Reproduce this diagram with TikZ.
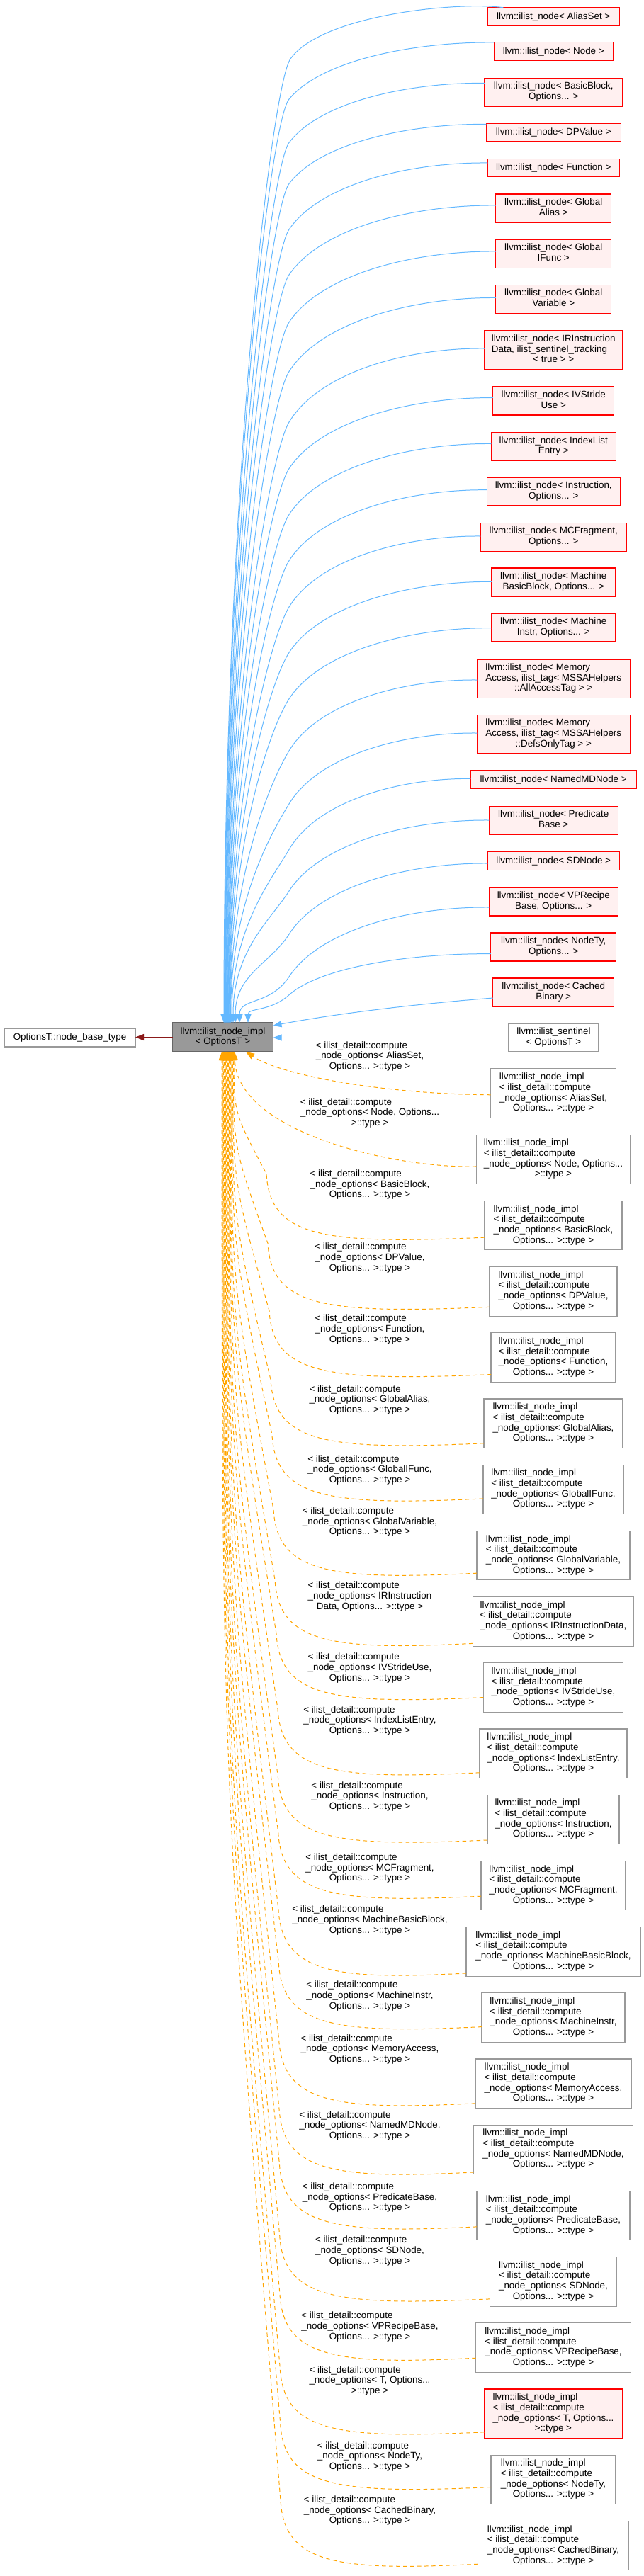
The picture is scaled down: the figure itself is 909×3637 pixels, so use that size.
\documentclass[tikz,border=0pt]{standalone}
\usepackage{fontspec}
\setmainfont{Liberation Sans}
\usetikzlibrary{arrows.meta}
\definecolor{rfill}{RGB}{255,240,240}
\definecolor{bedgec}{RGB}{99,184,255}
\definecolor{oedgec}{RGB}{255,165,0}
\definecolor{g60}{RGB}{153,153,153}
\definecolor{g40}{RGB}{102,102,102}
\definecolor{dred}{RGB}{139,26,26}
\newcommand{\lc}[1]{\multicolumn{1}{@{}c@{}}{#1}}
\newcommand{\tx}[1]{\begin{tabular}{@{}l@{}}#1\end{tabular}}
\newcommand{\optt}{Options... >::type >}
\newcommand{\implx}[2]{\tx{llvm::ilist\_node\_impl\\< ilist\_detail::compute\\\_node\_options< #1\\\lc{#2}}}
\newcommand{\lblx}[2]{\tx{< ilist\_detail::compute\\\_node\_options< #1\\\lc{#2}}}
\begin{document}
\begin{tikzpicture}[x=1pt,y=1pt,
  every node/.style={font=\fontsize{13.4}{14.7}\selectfont, inner sep=0pt, outer sep=0pt, text=black},
  rb/.style={rectangle, draw=red, fill=rfill, line width=1.2pt},
  wb/.style={rectangle, draw=g60, fill=white, line width=1.1pt},
  cb/.style={rectangle, draw=g40, fill=g60, line width=1.1pt},
  bedge/.style={draw=bedgec, line width=1pt, -{Triangle[length=12pt,width=9pt]}},
  oedge/.style={draw=oedgec, line width=1pt, dash pattern=on 5.5pt off 4.5pt, -{Triangle[length=12pt,width=9pt]}},
  dedge/.style={draw=dred, line width=1pt, -{Triangle[length=12pt,width=9pt]}}
]
\path[use as bounding box, fill=white] (0,0) rectangle (909,-3637);

% central, left, sentinel
\node[cb, minimum width=142pt, minimum height=41pt] (c) at (314.5,-1464.5) {\tx{llvm::ilist\_node\_impl\\\lc{< OptionsT >}}};
\node[wb, minimum width=185pt, minimum height=26pt] (lft) at (98.5,-1465) {OptionsT::node\_base\_type};
\node[wb, minimum width=127pt, minimum height=40pt] (snt) at (781.5,-1465) {\tx{llvm::ilist\_sentinel\\\lc{< OptionsT >}}};

% red boxes
\node[rb, minimum width=186pt, minimum height=25.5pt] (r0) at (781.25,-23.5) {llvm::ilist\_node< AliasSet >};
\node[rb, minimum width=168pt, minimum height=25.5pt] (r1) at (781.25,-72.5) {llvm::ilist\_node< Node >};
\node[rb, minimum width=195pt, minimum height=40pt] (r2) at (781.25,-130.3) {\tx{llvm::ilist\_node< BasicBlock,\\\lc{Options... >}}};
\node[rb, minimum width=190pt, minimum height=25.5pt] (r3) at (781.25,-187.2) {llvm::ilist\_node< DPValue >};
\node[rb, minimum width=186pt, minimum height=25.5pt] (r4) at (781.25,-236.9) {llvm::ilist\_node< Function >};
\node[rb, minimum width=163pt, minimum height=40pt] (r5) at (781.25,-293.9) {\tx{llvm::ilist\_node< Global\\\lc{Alias >}}};
\node[rb, minimum width=163pt, minimum height=40pt] (r6) at (781.25,-358.2) {\tx{llvm::ilist\_node< Global\\\lc{IFunc >}}};
\node[rb, minimum width=163pt, minimum height=40pt] (r7) at (781.25,-422.1) {\tx{llvm::ilist\_node< Global\\\lc{Variable >}}};
\node[rb, minimum width=195pt, minimum height=54.5pt] (r8) at (781.25,-494.2) {\tx{llvm::ilist\_node< IRInstruction\\Data, ilist\_sentinel\_tracking\\\lc{< true > >}}};
\node[rb, minimum width=171pt, minimum height=40pt] (r9) at (781.25,-566) {\tx{llvm::ilist\_node< IVStride\\\lc{Use >}}};
\node[rb, minimum width=176pt, minimum height=40pt] (r10) at (781.25,-630.5) {\tx{llvm::ilist\_node< IndexList\\\lc{Entry >}}};
\node[rb, minimum width=188pt, minimum height=40pt] (r11) at (781.25,-694) {\tx{llvm::ilist\_node< Instruction,\\\lc{Options... >}}};
\node[rb, minimum width=206pt, minimum height=40pt] (r12) at (781.25,-758.2) {\tx{llvm::ilist\_node< MCFragment,\\\lc{Options... >}}};
\node[rb, minimum width=175pt, minimum height=40pt] (r13) at (781.25,-822) {\tx{llvm::ilist\_node< Machine\\\lc{BasicBlock, Options... >}}};
\node[rb, minimum width=175pt, minimum height=40pt] (r14) at (781.25,-886) {\tx{llvm::ilist\_node< Machine\\\lc{Instr, Options... >}}};
\node[rb, minimum width=216pt, minimum height=54.5pt] (r15) at (781.25,-958.2) {\tx{llvm::ilist\_node< Memory\\Access, ilist\_tag< MSSAHelpers\\\lc{::AllAccessTag > >}}};
\node[rb, minimum width=216pt, minimum height=54.5pt] (r16) at (781.25,-1036.5) {\tx{llvm::ilist\_node< Memory\\Access, ilist\_tag< MSSAHelpers\\\lc{::DefsOnlyTag > >}}};
\node[rb, minimum width=234pt, minimum height=25.5pt] (r17) at (781.25,-1100.7) {llvm::ilist\_node< NamedMDNode >};
\node[rb, minimum width=182pt, minimum height=40pt] (r18) at (781.25,-1158.2) {\tx{llvm::ilist\_node< Predicate\\\lc{Base >}}};
\node[rb, minimum width=186pt, minimum height=25.5pt] (r19) at (781.25,-1215.5) {llvm::ilist\_node< SDNode >};
\node[rb, minimum width=182pt, minimum height=40pt] (r20) at (781.25,-1273) {\tx{llvm::ilist\_node< VPRecipe\\\lc{Base, Options... >}}};
\node[rb, minimum width=177pt, minimum height=40pt] (r21) at (781.25,-1337) {\tx{llvm::ilist\_node< NodeTy,\\\lc{Options... >}}};
\node[rb, minimum width=171pt, minimum height=40pt] (r22) at (781.25,-1401) {\tx{llvm::ilist\_node< Cached\\\lc{Binary >}}};

% impl nodes
\node[wb, minimum width=177pt, minimum height=69.5pt] (i0) at (781,-1543.75) {\implx{AliasSet,}{\optt}};
\node[wb, minimum width=217.5pt, minimum height=69.5pt] (i1) at (781,-1636.95) {\implx{Node, Options...}{>::type >}};
\node[wb, minimum width=194pt, minimum height=69.5pt] (i2) at (781,-1730.15) {\implx{BasicBlock,}{\optt}};
\node[wb, minimum width=180pt, minimum height=69.5pt] (i3) at (781,-1823.35) {\implx{DPValue,}{\optt}};
\node[wb, minimum width=176pt, minimum height=69.5pt] (i4) at (781,-1916.55) {\implx{Function,}{\optt}};
\node[wb, minimum width=196pt, minimum height=69.5pt] (i5) at (781,-2009.75) {\implx{GlobalAlias,}{\optt}};
\node[wb, minimum width=198pt, minimum height=69.5pt] (i6) at (781,-2102.95) {\implx{GlobalIFunc,}{\optt}};
\node[wb, minimum width=216pt, minimum height=69.5pt] (i7) at (781,-2196.15) {\implx{GlobalVariable,}{\optt}};
\node[wb, minimum width=227pt, minimum height=69.5pt] (i8) at (781,-2289.35) {\implx{IRInstructionData,}{\optt}};
\node[wb, minimum width=197.5pt, minimum height=69.5pt] (i9) at (781,-2382.55) {\implx{IVStrideUse,}{\optt}};
\node[wb, minimum width=208pt, minimum height=69.5pt] (i10) at (781,-2475.75) {\implx{IndexListEntry,}{\optt}};
\node[wb, minimum width=186pt, minimum height=69.5pt] (i11) at (781,-2568.95) {\implx{Instruction,}{\optt}};
\node[wb, minimum width=204pt, minimum height=69.5pt] (i12) at (781,-2662.15) {\implx{MCFragment,}{\optt}};
\node[wb, minimum width=246pt, minimum height=69.5pt] (i13) at (781,-2755.35) {\implx{MachineBasicBlock,}{\optt}};
\node[wb, minimum width=202pt, minimum height=69.5pt] (i14) at (781,-2848.55) {\implx{MachineInstr,}{\optt}};
\node[wb, minimum width=220pt, minimum height=69.5pt] (i15) at (781,-2941.75) {\implx{MemoryAccess,}{\optt}};
\node[wb, minimum width=225pt, minimum height=69.5pt] (i16) at (781,-3034.95) {\implx{NamedMDNode,}{\optt}};
\node[wb, minimum width=216pt, minimum height=69.5pt] (i17) at (781,-3128.15) {\implx{PredicateBase,}{\optt}};
\node[wb, minimum width=179pt, minimum height=69.5pt] (i18) at (781,-3221.35) {\implx{SDNode,}{\optt}};
\node[wb, minimum width=218.5pt, minimum height=69.5pt] (i19) at (781,-3314.55) {\implx{VPRecipeBase,}{\optt}};
\node[rb, minimum width=194.5pt, minimum height=69.5pt] (i20) at (781,-3407.75) {\implx{T, Options...}{>::type >}};
\node[wb, minimum width=176pt, minimum height=69.5pt] (i21) at (781,-3500.95) {\implx{NodeTy,}{\optt}};
\node[wb, minimum width=212.7pt, minimum height=69.5pt] (i22) at (781,-3594.15) {\implx{CachedBinary,}{\optt}};

% edge labels
\node (l0) at (522,-1491.75) {\lblx{AliasSet,}{\optt}};
\node (l1) at (522,-1571.95) {\lblx{Node, Options...}{>::type >}};
\node (l2) at (522,-1673.15) {\lblx{BasicBlock,}{\optt}};
\node (l3) at (522,-1776.35) {\lblx{DPValue,}{\optt}};
\node (l4) at (522,-1877.55) {\lblx{Function,}{\optt}};
\node (l5) at (522,-1976.75) {\lblx{GlobalAlias,}{\optt}};
\node (l6) at (522,-2075.95) {\lblx{GlobalIFunc,}{\optt}};
\node (l7) at (522,-2149.15) {\lblx{GlobalVariable,}{\optt}};
\node (l8) at (522,-2254.35) {\lblx{IRInstruction}{Data, Options... >::type >}};
\node (l9) at (522,-2355.55) {\lblx{IVStrideUse,}{\optt}};
\node (l10) at (522,-2429.75) {\lblx{IndexListEntry,}{\optt}};
\node (l11) at (522,-2536.95) {\lblx{Instruction,}{\optt}};
\node (l12) at (522,-2638.15) {\lblx{MCFragment,}{\optt}};
\node (l13) at (522,-2711.35) {\lblx{MachineBasicBlock,}{\optt}};
\node (l14) at (522,-2818.55) {\lblx{MachineInstr,}{\optt}};
\node (l15) at (522,-2893.75) {\lblx{MemoryAccess,}{\optt}};
\node (l16) at (522,-3001.95) {\lblx{NamedMDNode,}{\optt}};
\node (l17) at (522,-3103.15) {\lblx{PredicateBase,}{\optt}};
\node (l18) at (522,-3178.35) {\lblx{SDNode,}{\optt}};
\node (l19) at (522,-3285.55) {\lblx{VPRecipeBase,}{\optt}};
\node (l20) at (522,-3361.75) {\lblx{T, Options...}{>::type >}};
\node (l21) at (522,-3468.95) {\lblx{NodeTy,}{\optt}};
\node (l22) at (522,-3545.15) {\lblx{CachedBinary,}{\optt}};

% dark red edge
\draw[dedge] (c.west) -- (c.west -| lft.east);

% blue edges
\draw[bedge] ([xshift=22pt]r0.north west) .. controls (650,-2) and (455,-20) .. (410,-83) .. controls (383,-121) and (316,-695) .. ([xshift=1.5pt]c.north);
\foreach \j/\ex/\ey/\d/\xs/\s in {
 1/697/60/80/2.1/12.5,
 2/684/117.4/84/2.7/12.9,
 3/686/175.4/84/3.3/11.8,
 4/688/230/94/3.9/6.9,
 5/700/290/98/4.5/3.9,
 6/700/355/100/5.1/3.2,
 7/700/420.5/104/5.7/1.6,
 8/684/492/104/6.3/2.2,
 9/696/561.6/100/6.9/4.4,
 10/693/626.5/100/7.5/4,
 11/687/691.7/100/8.1/2.3,
 12/678/757/100/8.7/1.2,
 13/694/821.4/100/9.3/0.6,
 14/694/886.7/100/9.9/-0.7,
 15/673/960/100/10.5/-1.8,
 16/673/1035/100/11.1/1.5,
 17/664/1099.4/100/12.5/1.3,
 18/690/1158/100/14.5/0.2,
 19/688/1219/100/17.5/-3.5,
 20/690/1281/98/23.5/-8,
 21/693/1346.7/58/35.5/-9.7}
{\draw[bedge] ([yshift=\s pt]r\j.west) .. controls ({\ex-0.38*(\ex-408)},{-\ey+1}) and ({408+0.16*(\ex-408)},{-\ey-0.3*\d}) .. (408,{-\ey-\d}) .. controls ({408-0.096*(\ex-408)},{-\ey-1.42*\d}) and ({314.5+\xs},{-\ey-\d-0.45*(1444-\ey-\d)}) .. ([xshift=\xs pt]c.north);}
\draw[bedge] ([yshift=-8pt]r22.west) .. controls (580,-1418) and (470,-1432) .. ([yshift=16.5pt]c.east);
\draw[bedge] (snt.west) -- (snt.west -| c.east);

% orange edges
\draw[oedge] ([yshift=-2pt]i0.west) .. controls (550,-1545) and (400,-1520) .. ([xshift=32.5pt]c.south);
\draw[oedge] ([yshift=-10pt]i1.west) .. controls (560,-1650) and (335,-1600) .. ([xshift=16.5pt]c.south);
\foreach \k/\ye/\xts/\xk/\dl in {
 2/1747.15/15.65/376/17,
 3/1845.35/14.8/378/22,
 4/1940.55/13.95/380/24,
 5/2037.75/13.1/382/28,
 6/2115.95/12.25/384/13,
 7/2221.15/11.4/386/25,
 8/2320.35/10.55/388/31,
 9/2396.55/9.7/390/14,
 10/2502.75/8.85/392/27,
 11/2597.95/8/392.3/29,
 12/2677.15/7.15/392.7/15,
 13/2785.95/6.3/393/30.6,
 14/2861.55/5.45/393.3/13,
 15/2969.75/4.6/393.7/28,
 16/3066.95/3.75/394/32,
 17/3143.85/2.9/394.3/15.7,
 18/3245.85/2.05/394.7/24.5,
 19/3329.15/1.2/395/14.6,
 20/3433.75/0.35/395.3/26,
 21/3511.45/-0.5/395.7/10.5,
 22/3620.15/-1.35/396/26}
{\draw[oedge] ([yshift=-\dl pt]i\k.west) .. controls ({\xk+80},{-\ye-10}) and ({\xk+5},{-\ye}) .. (\xk,{-\ye+90}) .. controls ({314.5+\xts},{-(1395+\ye)/2}) .. ([xshift=\xts pt]c.south);}
\end{tikzpicture}
\end{document}
